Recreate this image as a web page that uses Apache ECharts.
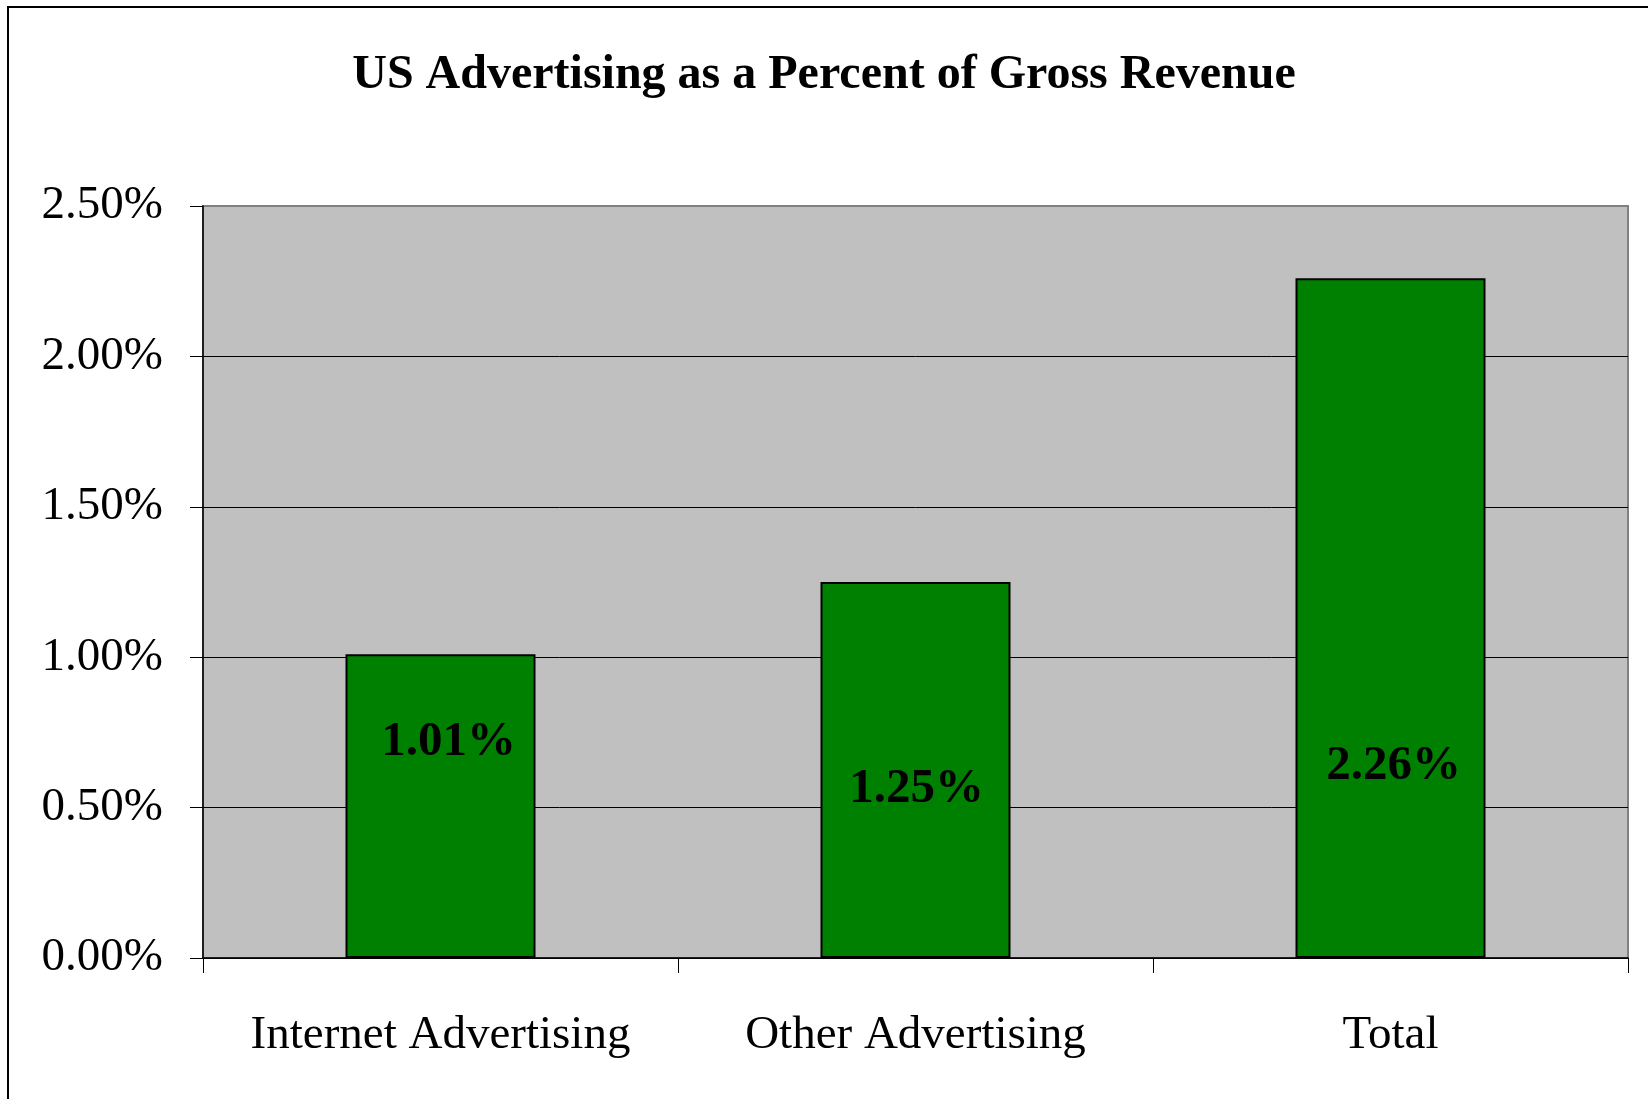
<!DOCTYPE html>
<html>
<head>
<meta charset="utf-8">
<script src="https://cdn.jsdelivr.net/npm/echarts@6/dist/echarts.min.js"></script>
<style>
  html, body { margin: 0; padding: 0; background: #fff; }
  #chart { width: 1648px; height: 1099px; }
</style>
</head>
<body>
<div id="chart"></div>
<script>
// Advertising spend as a share of gross revenue (percent)
const categories = ['Internet Advertising', 'Other Advertising', 'Total'];
const shares = [1.01, 1.25, 2.26];
const yTicks = [0, 0.5, 1.0, 1.5, 2.0, 2.5];

// Hand-placed label offsets inside each bar (x, y in px)
const labelOffsets = [[8, -64], [1, 19], [3, 148]];

const serif = '"Liberation Serif", "Times New Roman", serif';
const chart = echarts.init(document.getElementById('chart'), null, { renderer: 'canvas' });

chart.setOption({
  backgroundColor: '#ffffff',
  animation: false,
  title: {
    text: 'US Advertising as a Percent of Gross Revenue',
    left: 'center',
    top: 47,
    padding: [5, 5, 5, 17],
    textStyle: { fontFamily: serif, fontWeight: 'bold', fontSize: 48, color: '#000' }
  },
  graphic: [{
    type: 'rect',
    shape: { x: 8, y: 7, width: 1700, height: 1200 },
    style: { fill: 'none', stroke: '#000', lineWidth: 2 },
    silent: true
  }],
  grid: {
    left: 203, right: 20, top: 206, bottom: 141,
    show: true,
    backgroundColor: '#c0c0c0',
    borderColor: '#808080',
    borderWidth: 2
  },
  xAxis: {
    type: 'category',
    data: categories,
    axisLine: { lineStyle: { color: '#000', width: 1.5 } },
    axisTick: { show: true, interval: 0, length: 15, alignWithLabel: false, lineStyle: { color: '#000' } },
    axisLabel: { interval: 0, hideOverlap: false, margin: 54, fontFamily: serif, fontSize: 47, color: '#000' }
  },
  yAxis: {
    type: 'value',
    min: yTicks[0],
    max: yTicks[yTicks.length - 1],
    interval: yTicks[1] - yTicks[0],
    axisLine: { show: true, lineStyle: { color: '#000', width: 1.5 } },
    axisTick: { show: true, length: 13, lineStyle: { color: '#000' } },
    axisLabel: {
      margin: 40, fontFamily: serif, fontSize: 47, color: '#000',
      formatter: v => v.toFixed(2) + '%'
    },
    splitLine: { show: true, lineStyle: { color: ['#000', '#000', '#000', '#000', '#000', '#808080'], width: 1 } }
  },
  series: [{
    type: 'bar',
    barWidth: '40%',
    data: shares.map((v, i) => ({
      value: v,
      label: { offset: labelOffsets[i] }
    })),
    itemStyle: { color: '#008000', borderColor: '#000', borderWidth: 2 },
    label: {
      show: true,
      position: 'inside',
      fontFamily: serif,
      fontWeight: 'bold',
      fontSize: 49,
      color: '#000',
      formatter: p => p.value.toFixed(2) + '%'
    }
  }]
});
</script>
</body>
</html>
